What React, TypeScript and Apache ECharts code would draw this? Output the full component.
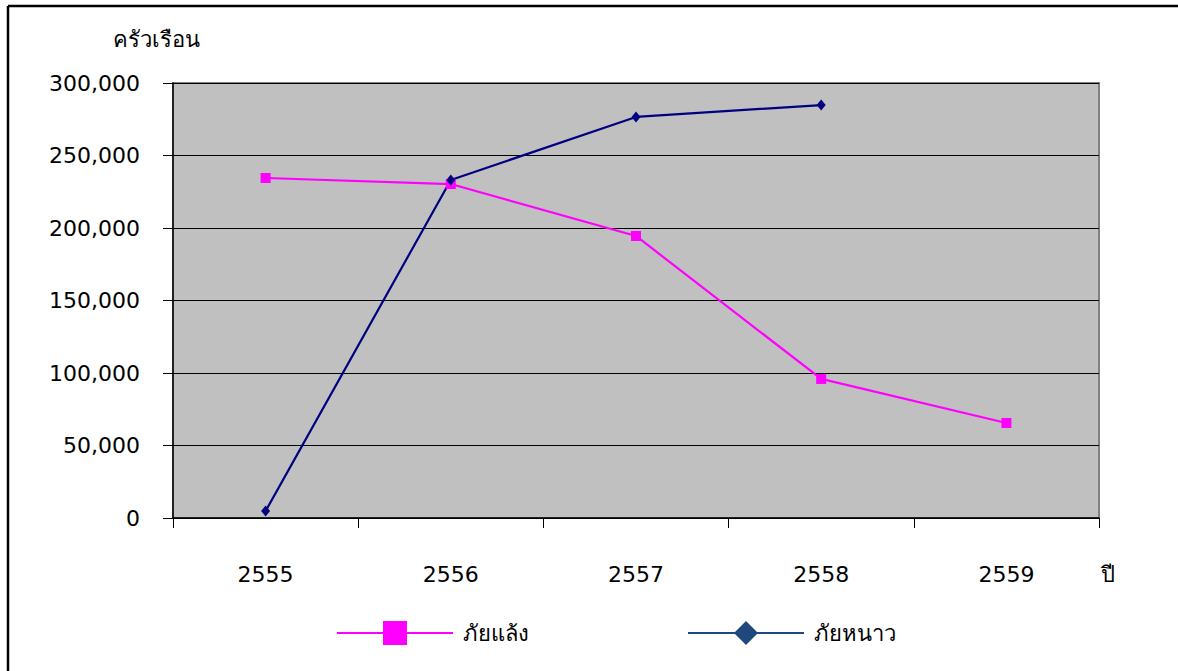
import React, { useEffect, useRef } from "react";
import * as echarts from "echarts";

const years = ["2555", "2556", "2557", "2558", "2559"];
const droughtName = "ภัยแล้ง";
const coldName = "ภัยหนาว";
const drought = [234500, 230300, 194500, 95900, 65500];
const cold: (number | null)[] = [4800, 233100, 276600, 284800, null];
const yAxisTitle = "ครัวเรือน";
const xAxisTitle = "ปี";

const FONT = "'DejaVu Sans', Tahoma, 'Noto Sans', sans-serif";

export default function App() {
  const ref = useRef<HTMLDivElement>(null);
  useEffect(() => {
    const chart = echarts.init(ref.current!, null, { renderer: "svg" });
    chart.setOption({
      animation: false,
      backgroundColor: "#ffffff",
      textStyle: { fontFamily: FONT },
      grid: {
        left: 173,
        right: 79,
        top: 83,
        bottom: 153,
        show: true,
        backgroundColor: "#C0C0C0",
        borderColor: "#808080",
        borderWidth: 2,
      },
      xAxis: {
        type: "category",
        data: years,
        boundaryGap: true,
        axisLine: { show: true, lineStyle: { color: "#000", width: 1.5 } },
        axisTick: { show: true, length: 10, interval: 0, lineStyle: { color: "#000" } },
        axisLabel: { color: "#000", fontSize: 22, fontFamily: FONT, margin: 45 },
        splitLine: { show: false },
      },
      yAxis: {
        type: "value",
        min: 0,
        max: 300000,
        interval: 50000,
        axisLine: { show: true, lineStyle: { color: "#000", width: 1.5 } },
        axisTick: { show: true, length: 10, lineStyle: { color: "#000" } },
        axisLabel: {
          color: "#000",
          fontSize: 22,
          fontFamily: FONT,
          margin: 33,
          formatter: (v: number) => v.toLocaleString("en-US"),
        },
        splitLine: { show: true, lineStyle: { color: "#000", width: 1 } },
      },
      legend: {
        left: 336,
        top: 621,
        padding: 0,
        itemWidth: 116,
        itemHeight: 30,
        itemGap: 158,
        textStyle: { color: "#000", fontSize: 22, fontFamily: FONT, padding: [0, 0, 4, 5] },
        data: [
          {
            name: droughtName,
            itemStyle: { color: "#FF00FF" },
            lineStyle: { color: "#FF00FF", width: 2 },
          },
          {
            name: coldName,
            itemStyle: { color: "#1F497D" },
            lineStyle: { color: "#1F497D", width: 2 },
          },
        ],
      },
      graphic: [
        {
          type: "line",
          shape: { x1: 8, y1: 6, x2: 1178, y2: 6 },
          style: { stroke: "#000", lineWidth: 2.5 },
        },
        {
          type: "line",
          shape: { x1: 8, y1: 6, x2: 8, y2: 671 },
          style: { stroke: "#000", lineWidth: 2.5 },
        },
        {
          type: "text",
          left: 113,
          top: 28,
          style: { text: yAxisTitle, fill: "#000", fontSize: 22, fontFamily: FONT },
        },
        {
          type: "text",
          left: 1101,
          top: 563,
          style: { text: xAxisTitle, fill: "#000", fontSize: 22, fontFamily: FONT },
        },
      ],
      series: [
        {
          name: droughtName,
          type: "line",
          data: drought,
          symbol: "rect",
          symbolSize: 10,
          color: "#FF00FF",
          itemStyle: { color: "#FF00FF" },
          lineStyle: { color: "#FF00FF", width: 2.2 },
        },
        {
          name: coldName,
          type: "line",
          data: cold,
          symbol: "diamond",
          symbolSize: [9, 11],
          color: "#000080",
          itemStyle: { color: "#000080" },
          lineStyle: { color: "#000080", width: 2.2 },
        },
      ],
    });
    return () => chart.dispose();
  }, []);
  return (
    <div
      ref={ref}
      style={{ position: "fixed", left: 0, top: 0, width: 1178, height: 671, background: "#fff" }}
    />
  );
}
